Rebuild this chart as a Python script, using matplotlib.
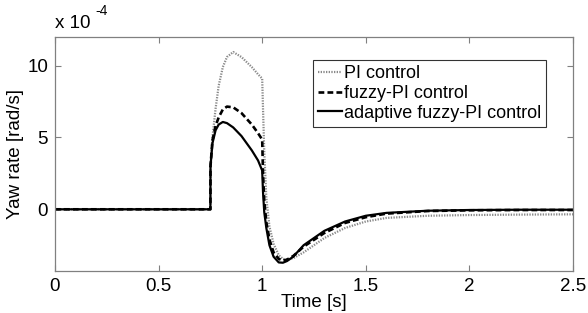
import matplotlib
matplotlib.use("Agg")
import matplotlib.pyplot as plt

plt.rcParams['font.family'] = ['Liberation Sans', 'DejaVu Sans']

# time [s] and yaw rate values in units of 1e-4 rad/s
time = [0, 0.75, 0.7505, 0.76, 0.775, 0.79, 0.81, 0.83, 0.86, 0.9, 0.95, 0.98, 1.0,
        1.004, 1.01, 1.02, 1.035, 1.055, 1.08, 1.1, 1.12, 1.15, 1.2, 1.3, 1.4,
        1.5, 1.6, 1.8, 2.0, 2.25, 2.5]
pi_ctrl = [0, 0, 3.0, 5.0, 7.0, 8.6, 9.9, 10.6, 10.95, 10.6, 9.9, 9.4, 9.1,
           7.0, 4.0, 0.8, -1.2, -2.4, -3.2, -3.45, -3.5, -3.4, -3.0, -2.0, -1.3,
           -0.85, -0.6, -0.45, -0.4, -0.37, -0.35]
fuzzy_pi = [0, 0, 3.0, 4.8, 5.8, 6.4, 6.95, 7.15, 7.1, 6.7, 5.9, 5.3, 4.85,
            2.5, 0.6, -0.9, -2.1, -3.0, -3.45, -3.58, -3.5, -3.25, -2.6, -1.65, -0.95,
            -0.55, -0.3, -0.12, -0.07, -0.05, -0.05]
adaptive = [0, 0, 3.0, 4.6, 5.5, 5.9, 6.08, 6.0, 5.7, 5.1, 4.1, 3.4, 2.7,
            1.2, -0.2, -1.3, -2.5, -3.3, -3.7, -3.72, -3.6, -3.3, -2.5, -1.5, -0.85,
            -0.45, -0.25, -0.1, -0.05, -0.03, -0.03]

labels = ['PI control', 'fuzzy-PI control', 'adaptive fuzzy-PI control']
xticks = [0, 0.5, 1, 1.5, 2, 2.5]
yticks = [0, 5, 10]

fig = plt.figure(figsize=(5.88, 3.13), dpi=100)
ax = fig.add_axes([0.0935, 0.134, 0.881, 0.748])

ax.plot(time, pi_ctrl, color='#8a8a8a', linestyle=(0, (0.6, 0.6)), lw=1.6, label=labels[0])
ax.plot(time, fuzzy_pi, color='black', linestyle=(0, (2.2, 1.2)), lw=1.9, label=labels[1])
ax.plot(time, adaptive, color='black', linestyle='-', lw=1.6, label=labels[2])

ax.set_xlim(0, 2.5)
ax.set_ylim(-4.3, 12)
ax.set_xticks(xticks)
ax.set_xticklabels(['0', '0.5', '1', '1.5', '2', '2.5'])
ax.set_yticks(yticks)

for s in ax.spines.values():
    s.set_color('#808080')
    s.set_linewidth(0.9)
ax.tick_params(direction='in', length=4, color='#808080', top=True, right=True,
               labelsize=13.5, pad=5)

ax.set_xlabel('Time [s]', fontsize=13.5, labelpad=-1)
ax.set_ylabel('Yaw rate [rad/s]', fontsize=13.5, labelpad=2)

ax.text(0.0, 1.02, 'x 10', transform=ax.transAxes, fontsize=13.5, ha='left', va='bottom')
ax.text(0.078, 1.08, '-4', transform=ax.transAxes, fontsize=10, ha='left', va='bottom')

leg = ax.legend(loc='upper left', bbox_to_anchor=(0.498, 0.902), fontsize=13,
                frameon=True, fancybox=False, handlelength=1.3, handletextpad=0.1,
                borderpad=0.3, labelspacing=0.15, borderaxespad=0)
leg.get_frame().set_edgecolor('black')
leg.get_frame().set_linewidth(0.8)

fig.savefig('out.png', dpi=100)
